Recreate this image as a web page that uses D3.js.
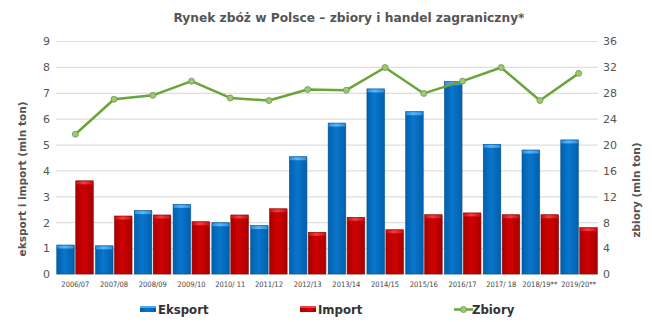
<!DOCTYPE html>
<html><head><meta charset="utf-8">
<script src="https://cdn.jsdelivr.net/npm/d3@7"></script>
<style>html,body{margin:0;padding:0;background:#fff;}svg{display:block;}</style>
</head><body>
<script>
const categories = ["2006/07","2007/08","2008/09","2009/10","2010/ 11","2011/12","2012/13","2013/14","2014/15","2015/16","2016/17","2017/ 18","2018/19**","2019/20**"];
const eksport = [1.12,1.09,2.45,2.69,1.98,1.87,4.53,5.83,7.15,6.27,7.43,5.01,4.79,5.18];
const importV = [3.6,2.24,2.28,2.02,2.28,2.52,1.61,2.19,1.71,2.29,2.36,2.29,2.29,1.79];
const zbiory = [21.6,27.0,27.6,29.8,27.2,26.8,28.5,28.4,31.9,27.9,29.8,31.9,26.8,31.0];
const leftTicks = [0,1,2,3,4,5,6,7,8,9];
const rightTicks = [0,4,8,12,16,20,24,28,32,36];
const title = "Rynek zbóż w Polsce – zbiory i handel zagraniczny*";

const W=652,H=322;
const svg=d3.select("body").append("svg").attr("width",W).attr("height",H);
const defs=svg.append("defs");
function grad(id,edge,mid){
  const g=defs.append("linearGradient").attr("id",id).attr("x1","0").attr("x2","1").attr("y1","0").attr("y2","0");
  g.append("stop").attr("offset","0").attr("stop-color",edge);
  g.append("stop").attr("offset","0.45").attr("stop-color",mid);
  g.append("stop").attr("offset","1").attr("stop-color",edge);
}
grad("gBlue","#0060ad","#0a76cc");
grad("gRed","#a80000","#d00000");
grad("gBlueTop","#2f8fe0","#5ab8f8");
grad("gRed2","#d01010","#f04040");

const x0=56,x1=598,yTop=41,yBot=274;
const x=d3.scaleBand().domain(categories).range([x0,x1]).paddingInner(0.06).paddingOuter(0.02);
const xs=d3.scaleBand().domain(["e","i"]).range([0,x.bandwidth()]).paddingInner(0.08);
const yL=d3.scaleLinear().domain([0,9]).range([yBot,yTop]);
const yR=d3.scaleLinear().domain([0,36]).range([yBot,yTop]);
const xc=d=>d3.scaleBand().domain(categories).range([x0,x1])(d)+(x1-x0)/categories.length/2;

// grid
svg.append("g").selectAll("line").data(leftTicks).join("line")
  .attr("x1",x0).attr("x2",x1).attr("y1",d=>yL(d)+0.5).attr("y2",d=>yL(d)+0.5)
  .attr("stroke","#dedede").attr("stroke-width",1.2);

// left axis
const la=svg.append("g").attr("transform",`translate(${x0-6},0)`)
  .call(d3.axisLeft(yL).tickValues(leftTicks).tickSize(0).tickPadding(0));
la.select(".domain").remove();
la.selectAll("text").attr("font-family","DejaVu Sans").attr("font-size",11).attr("fill","#555").attr("dy","0.35em");
const ra=svg.append("g").attr("transform",`translate(${x1+5},0)`)
  .call(d3.axisRight(yR).tickValues(rightTicks).tickSize(0).tickPadding(0));
ra.select(".domain").remove();
ra.selectAll("text").attr("font-family","DejaVu Sans").attr("font-size",11).attr("fill","#555").attr("dy","0.35em");

// x axis labels
const xa=svg.append("g").attr("transform",`translate(0,${yBot+6})`)
  .call(d3.axisBottom(d3.scaleBand().domain(categories).range([x0,x1])).tickSize(0).tickPadding(0));
xa.select(".domain").remove();
xa.selectAll("text").attr("font-family","DejaVu Sans Condensed, DejaVu Sans").attr("font-size",7.5).attr("fill","#444").attr("dy","0.9em");

// bars
function bars(vals,key,fill,top,shade){
  const g=svg.append("g");
  const xx=d=>x(categories[d.i])+xs(key);
  const data=vals.map((v,i)=>({v,i}));
  g.selectAll("rect.s").data(data).join("rect")
    .attr("x",d=>xx(d)+1).attr("y",d=>yL(d.v)+1).attr("width",xs.bandwidth()).attr("height",d=>yBot-yL(d.v)-1)
    .attr("fill","#000").attr("opacity",0.12);
  g.selectAll("rect.b").data(data).join("rect")
    .attr("x",xx).attr("y",d=>yL(d.v)).attr("width",xs.bandwidth()).attr("height",d=>yBot-yL(d.v))
    .attr("fill",fill).attr("stroke",shade).attr("stroke-width",0.6);
  g.selectAll("rect.t").data(data).join("rect")
    .attr("x",d=>xx(d)+0.5).attr("y",d=>yL(d.v)+0.5).attr("width",xs.bandwidth()-1).attr("height",3)
    .attr("fill",top);
}
bars(eksport,"e","url(#gBlue)","url(#gBlueTop)","#00508f");
bars(importV,"i","url(#gRed)","url(#gRed2)","#8a0000");

// line
const line=d3.line().x((d,i)=>xc(categories[i])).y(d=>yR(d));
svg.append("path").datum(zbiory).attr("d",line).attr("fill","none").attr("stroke","#6aa539").attr("stroke-width",2.5).attr("stroke-linejoin","round");
svg.append("g").selectAll("circle").data(zbiory).join("circle")
  .attr("cx",(d,i)=>xc(categories[i])).attr("cy",d=>yR(d)).attr("r",3)
  .attr("fill","#9ccb6e").attr("stroke","#6f8f5a").attr("stroke-width",0.8);

// title
svg.append("text").attr("x",349).attr("y",22).attr("text-anchor","middle")
  .attr("font-family","DejaVu Sans Condensed, DejaVu Sans").attr("font-weight","bold").attr("font-size",13).attr("fill","#555")
  .attr("textLength",351).attr("lengthAdjust","spacingAndGlyphs").text(title);

// axis titles
svg.append("text").attr("transform","translate(26,179) rotate(-90)").attr("text-anchor","middle")
  .attr("font-family","DejaVu Sans").attr("font-weight","bold").attr("font-size",10.5).attr("fill","#555")
  .attr("textLength",155).attr("lengthAdjust","spacingAndGlyphs").text("eksport i import (mln ton)");
svg.append("text").attr("transform","translate(640,190) rotate(-90)").attr("text-anchor","middle")
  .attr("font-family","DejaVu Sans").attr("font-weight","bold").attr("font-size",10.5).attr("fill","#555")
  .attr("textLength",95).attr("lengthAdjust","spacingAndGlyphs").text("zbiory (mln ton)");

// legend
const lg=svg.append("g").attr("font-family","DejaVu Sans Condensed, DejaVu Sans").attr("font-weight","bold").attr("font-size",13).attr("fill","#333");
const legendItems=[{name:"Eksport",x:140,type:"bar",fill:"url(#gBlue)",top:"#4aaaf0"},{name:"Import",x:300,type:"bar",fill:"url(#gRed)",top:"#f04040"},{name:"Zbiory",x:454,type:"line"}];
legendItems.forEach(it=>{
  if(it.type==="bar"){
    lg.append("rect").attr("x",it.x).attr("y",306).attr("width",16).attr("height",6).attr("fill",it.fill);
    lg.append("rect").attr("x",it.x).attr("y",306).attr("width",16).attr("height",2).attr("fill",it.top);
  } else {
    lg.append("line").attr("x1",it.x).attr("x2",it.x+19).attr("y1",309.5).attr("y2",309.5).attr("stroke","#6aa539").attr("stroke-width",2.5);
    lg.append("circle").attr("cx",it.x+9.5).attr("cy",309.5).attr("r",3).attr("fill","#9ccb6e").attr("stroke","#6f8f5a").attr("stroke-width",0.8);
  }
  lg.append("text").attr("x",it.x+18).attr("y",314).text(it.name);
});
</script>
</body></html>
